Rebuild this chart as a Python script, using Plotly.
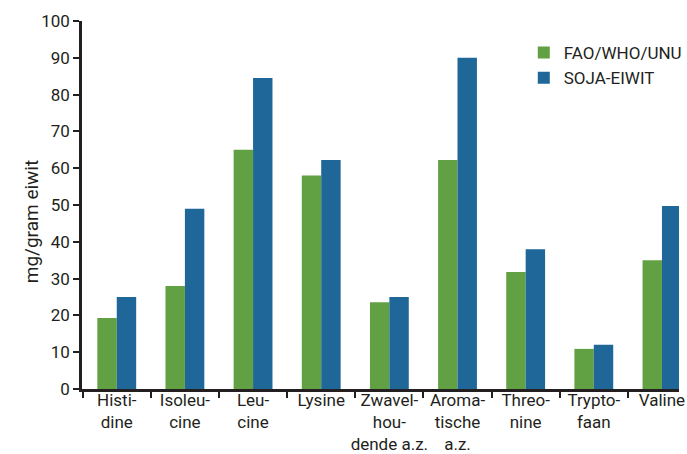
import plotly.graph_objects as go

# Essential amino acids per gram of protein
categories = [
    "Histi-<br>dine", "Isoleu-<br>cine", "Leu-<br>cine", "Lysine",
    "Zwavel-<br>hou-<br>dende a.z.", "Aroma-<br>tische<br>a.z.",
    "Threo-<br>nine", "Trypto-<br>faan", "Valine",
]
fao_who_unu = [19.3, 28, 65, 58, 23.6, 62.2, 31.8, 10.9, 35]
soja_eiwit = [25, 49, 84.5, 62.2, 25, 90, 38, 12, 49.7]

y_ticks = [0, 10, 20, 30, 40, 50, 60, 70, 80, 90, 100]

GREEN = "#62a044"
BLUE = "#1f6699"
INK = "#231f20"
FONT = "Roboto"

fig = go.Figure()
fig.add_trace(go.Bar(name="FAO/WHO/UNU", x=categories, y=fao_who_unu,
                     marker=dict(color=GREEN, line=dict(width=0))))
fig.add_trace(go.Bar(name="SOJA-EIWIT", x=categories, y=soja_eiwit,
                     marker=dict(color=BLUE, line=dict(width=0))))

fig.update_layout(
    width=687, height=454,
    margin=dict(l=82, r=0, t=21, b=65),
    paper_bgcolor="white", plot_bgcolor="white",
    barmode="group", bargap=0.43, bargroupgap=0,
    font=dict(family=FONT, size=17, color=INK),
    legend=dict(x=0.74, y=0.962, xanchor="left", yanchor="top",
                bgcolor="rgba(0,0,0,0)", itemwidth=30,
                font=dict(size=17, color=INK), tracegroupgap=0),
    xaxis=dict(
        type="category", range=[-0.51, 8.25], automargin=False,
        showline=True, linecolor=INK, linewidth=2.5, tickangle=0,
        ticks="outside", tickson="boundaries", ticklen=6, tickwidth=2,
        tickcolor=INK, showgrid=False, zeroline=False,
        ticklabelstandoff=-6,
        tickfont=dict(size=17, color=INK),
    ),
    yaxis=dict(
        range=[0, 100], tickvals=y_ticks, automargin=False,
        showline=True, linecolor=INK, linewidth=2.5,
        ticks="outside", ticklen=6, tickwidth=2, tickcolor=INK,
        showgrid=False, zeroline=False,
        tickfont=dict(size=17, color=INK),
    ),
    # Axis title placed as a rotated annotation, set slightly below centre
    annotations=[dict(
        text="mg/gram eiwit", textangle=-90, showarrow=False,
        xref="paper", yref="paper", x=-0.0843, y=0.455,
        xanchor="center", yanchor="middle",
        font=dict(size=19, color=INK),
    )],
)

fig.write_html("out.html")
